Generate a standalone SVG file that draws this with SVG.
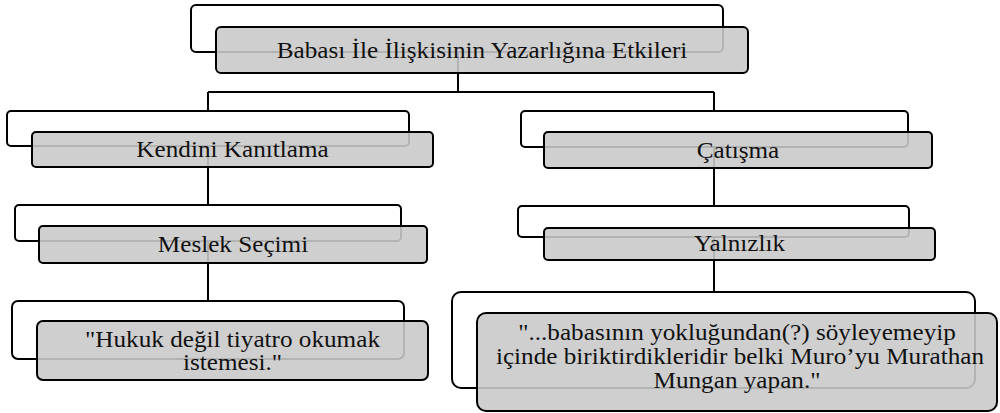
<svg xmlns="http://www.w3.org/2000/svg" width="1000" height="413" viewBox="0 0 1000 413">
<style>
.bg{fill:#fff;stroke:#000;stroke-width:2}
.fg{fill:#c9c9c9;fill-opacity:0.89;stroke:#000;stroke-width:2}
.c{fill:none;stroke:#000;stroke-width:2}
.t{font-family:'Liberation Serif','DejaVu Serif',serif;font-size:22.5px;fill:#111;text-anchor:middle}
</style>
<rect width="1000" height="413" fill="#fff"/>
<g id="connectors">
<path class="c" d="M458 52V92M208 92H714M208 92V111M714 92V111"/>
<path class="c" d="M208 146V205"/>
<path class="c" d="M208 241V301"/>
<path class="c" d="M714 147V206"/>
<path class="c" d="M714 237V292"/>
</g>
<g id="root">
<rect class="bg" x="191" y="5" width="532" height="47" rx="5"/>
<rect class="fg" x="216" y="27" width="532" height="46" rx="5"/>
<text class="t" font-family="Liberation Serif, serif" transform="translate(482,57.5) scale(1.12,1)">Babası İle İlişkisinin Yazarlığına Etkileri</text>
</g>
<g id="kendini">
<rect class="bg" x="7" y="111" width="402" height="35" rx="4"/>
<rect class="fg" x="32" y="132" width="401" height="35" rx="4"/>
<text class="t" font-family="Liberation Serif, serif" transform="translate(232.5,157) scale(1.12,1)">Kendini Kanıtlama</text>
</g>
<g id="catisma">
<rect class="bg" x="521" y="111" width="387" height="36" rx="4"/>
<rect class="fg" x="544" y="132" width="388" height="36" rx="4"/>
<text class="t" font-family="Liberation Serif, serif" transform="translate(738,157.5) scale(1.12,1)">Çatışma</text>
</g>
<g id="meslek">
<rect class="bg" x="15" y="205" width="386" height="36" rx="4"/>
<rect class="fg" x="39" y="226" width="388" height="37" rx="4"/>
<text class="t" font-family="Liberation Serif, serif" transform="translate(233,252) scale(1.12,1)">Meslek Seçimi</text>
</g>
<g id="yalnizlik">
<rect class="bg" x="518" y="206" width="391" height="31" rx="4"/>
<rect class="fg" x="544" y="228" width="391" height="32" rx="4"/>
<text class="t" font-family="Liberation Serif, serif" transform="translate(739.5,251) scale(1.12,1)">Yalnızlık</text>
</g>
<g id="quote1">
<rect class="bg" x="12" y="301" width="392" height="58" rx="6"/>
<rect class="fg" x="37" y="321" width="391" height="59" rx="6"/>
<text class="t" font-family="Liberation Serif, serif" transform="translate(232.5,347) scale(1.12,1)">"Hukuk değil tiyatro okumak</text>
<text class="t" font-family="Liberation Serif, serif" transform="translate(232.5,370) scale(1.12,1)">istemesi."</text>
</g>
<g id="quote2">
<rect class="bg" x="452" y="292" width="523" height="96" rx="9"/>
<rect class="fg" x="477" y="313" width="520" height="98" rx="9"/>
<text class="t" font-family="Liberation Serif, serif" transform="translate(737,340) scale(1.12,1)">"...babasının yokluğundan(?) söyleyemeyip</text>
<text class="t" font-family="Liberation Serif, serif" transform="translate(740,364) scale(1.12,1)">içinde biriktirdikleridir belki Muro’yu Murathan</text>
<text class="t" font-family="Liberation Serif, serif" transform="translate(737,388) scale(1.12,1)">Mungan yapan."</text>
</g>
</svg>
